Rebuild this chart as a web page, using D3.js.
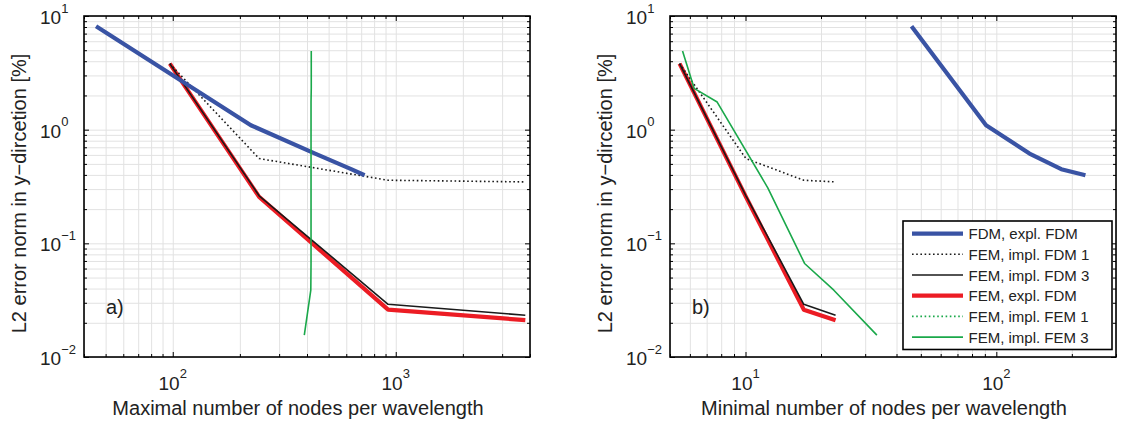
<!DOCTYPE html>
<html>
<head>
<meta charset="utf-8">
<script src="https://cdn.jsdelivr.net/npm/d3@7"></script>
<style>
  body { margin: 0; background: #fff; }
  text { font-family: "Liberation Sans", Arial, Helvetica, sans-serif; fill: #222; }
  .grid line { stroke: #e2e2e2; stroke-width: 1; }
  .grid path, .ticks path { stroke: none; }
  .ticks line { stroke: #000; stroke-width: 1; }
</style>
</head>
<body>
<script>
// y axis is shared by both panels
var yDomain = [0.01, 10];
var yTickLabels = [0.01, 0.1, 1, 10];

// panel a) : maximal number of nodes per wavelength
var xDomainA = [40, 4000];
var xTickLabelsA = [100, 1000];
var fdmExplMaxX = [45.3, 224, 435, 631, 725];
var fdmExplY = [8.11, 1.093, 0.616, 0.449, 0.397];
var femImplFdm1MaxX = [97, 244, 924, 3811];
var femImplFdm1Y = [3.81, 0.557, 0.359, 0.347];
var femImplFdm3MaxX = [97, 244, 924, 3811];
var femImplFdm3Y = [3.81, 0.262, 0.0291, 0.0233];
var femExplFdmMaxX = [97, 244, 924, 3811];
var femExplFdmY = [3.81, 0.256, 0.0261, 0.0211];
var femImplFem3MaxX = [418, 418, 417, 417, 417, 416, 389];
var femImplFem3Y = [4.92, 2.31, 1.75, 0.308, 0.0665, 0.0387, 0.01556];

// panel b) : minimal number of nodes per wavelength
var xDomainB = [5, 300];
var xTickLabelsB = [10, 100];
var fdmExplMinX = [45.9, 91, 135.6, 181.5, 226.6];
var femImplFdm1MinX = [5.46, 10.04, 17.07, 22.86];
var femImplFdm3MinX = [5.46, 10.04, 17.07, 22.86];
var femExplFdmMinX = [5.46, 10.04, 17.07, 22.86];
var femImplFem3MinX = [5.61, 6.24, 7.71, 12.27, 17.2, 22.5, 33.4];

// legend entries
var legendNames = ["FDM, expl. FDM", "FEM, impl. FDM 1", "FEM, impl. FDM 3",
                   "FEM, expl. FDM", "FEM, impl. FEM 1", "FEM, impl. FEM 3"];

// line styles, in legend order
var styles = [
  {color: "#3953a4", width: 4.2, dash: null},
  {color: "#1a1a1a", width: 1.6, dash: "1.6,2.6"},
  {color: "#1a1a1a", width: 1.6, dash: null},
  {color: "#ec1c24", width: 4.2, dash: null},
  {color: "#1aa84a", width: 1.6, dash: "1.6,2.6"},
  {color: "#1aa84a", width: 1.6, dash: null}
];

function zip(xs, ys) {
  return xs.map(function(v, i) { return {x: v, y: ys[i]}; });
}

var panels = [
  {
    left: 84, top: 16, width: 446, height: 341,
    xDomain: xDomainA, xTickLabels: xTickLabelsA,
    xLabel: "Maximal number of nodes per wavelength", tag: "a)",
    // drawing order: red under black, green on top
    series: [
      {style: 3, data: zip(femExplFdmMaxX, femExplFdmY)},
      {style: 2, data: zip(femImplFdm3MaxX, femImplFdm3Y)},
      {style: 1, data: zip(femImplFdm1MaxX, femImplFdm1Y)},
      {style: 0, data: zip(fdmExplMaxX, fdmExplY)},
      {style: 5, data: zip(femImplFem3MaxX, femImplFem3Y)}
    ],
    legend: false
  },
  {
    left: 670, top: 16, width: 446, height: 341,
    xDomain: xDomainB, xTickLabels: xTickLabelsB,
    xLabel: "Minimal number of nodes per wavelength", tag: "b)",
    series: [
      {style: 3, data: zip(femExplFdmMinX, femExplFdmY)},
      {style: 2, data: zip(femImplFdm3MinX, femImplFdm3Y)},
      {style: 1, data: zip(femImplFdm1MinX, femImplFdm1Y)},
      {style: 0, data: zip(fdmExplMinX, fdmExplY)},
      {style: 5, data: zip(femImplFem3MinX, femImplFem3Y)}
    ],
    legend: true
  }
];

var svg = d3.select("body").append("svg")
    .attr("width", 1121)
    .attr("height", 426);

function isMajor(v) {
  var l = Math.log10(v);
  return Math.abs(l - Math.round(l)) < 1e-9;
}

function expLabel(v) {
  var e = Math.round(Math.log10(v));
  return e < 0 ? "\u2212" + (-e) : "" + e;
}

panels.forEach(function(p) {
  var x = d3.scaleLog().domain(p.xDomain).range([0, p.width]);
  var y = d3.scaleLog().domain(yDomain).range([p.height, 0]);

  var g = svg.append("g")
      .attr("transform", "translate(" + p.left + "," + p.top + ")");

  var xAll = x.ticks(), yAll = y.ticks();
  var xMajor = xAll.filter(isMajor), xMinor = xAll.filter(function(v) { return !isMajor(v); });
  var yMajor = yAll.filter(isMajor), yMinor = yAll.filter(function(v) { return !isMajor(v); });

  // gridlines
  g.append("g")
      .attr("class", "grid")
      .attr("transform", "translate(0," + p.height + ")")
      .call(d3.axisBottom(x).tickValues(xAll).tickSize(-p.height).tickFormat(""));
  g.append("g")
      .attr("class", "grid")
      .call(d3.axisLeft(y).tickValues(yAll).tickSize(-p.width).tickFormat(""));

  // the curves
  var line = d3.line()
      .x(function(d) { return x(d.x); })
      .y(function(d) { return y(d.y); });

  p.series.forEach(function(s) {
    var st = styles[s.style];
    g.append("path")
        .datum(s.data)
        .attr("fill", "none")
        .attr("stroke", st.color)
        .attr("stroke-width", st.width)
        .attr("stroke-linejoin", "round")
        .attr("stroke-dasharray", st.dash)
        .attr("d", line);
  });

  // inward ticks on all four sides
  [[xMajor, 5], [xMinor, 3]].forEach(function(t) {
    g.append("g").attr("class", "ticks")
        .attr("transform", "translate(0," + p.height + ")")
        .call(d3.axisBottom(x).tickValues(t[0]).tickSize(-t[1]).tickFormat(""));
    g.append("g").attr("class", "ticks")
        .call(d3.axisTop(x).tickValues(t[0]).tickSize(-t[1]).tickFormat(""));
  });
  [[yMajor, 5], [yMinor, 3]].forEach(function(t) {
    g.append("g").attr("class", "ticks")
        .call(d3.axisLeft(y).tickValues(t[0]).tickSize(-t[1]).tickFormat(""));
    g.append("g").attr("class", "ticks")
        .attr("transform", "translate(" + p.width + ",0)")
        .call(d3.axisRight(y).tickValues(t[0]).tickSize(-t[1]).tickFormat(""));
  });

  // frame
  g.append("rect")
      .attr("width", p.width)
      .attr("height", p.height)
      .attr("fill", "none")
      .attr("stroke", "#000")
      .attr("stroke-width", 1.6);

  // y tick labels
  yTickLabels.forEach(function(v) {
    var t = g.append("text")
        .attr("x", -44)
        .attr("y", y(v) + 8)
        .style("font-size", "19px")
        .text("10");
    t.append("tspan")
        .attr("dy", -11.5)
        .style("font-size", "13px")
        .text(expLabel(v));
  });

  // x tick labels
  p.xTickLabels.forEach(function(v) {
    var t = g.append("text")
        .attr("x", x(v))
        .attr("y", p.height + 32.5)
        .style("font-size", "19px")
        .style("text-anchor", "middle")
        .text("10");
    t.append("tspan")
        .attr("dy", -12)
        .style("font-size", "13px")
        .text(expLabel(v));
  });

  // axis titles
  g.append("text")
      .attr("x", p.width / 2 - 9)
      .attr("y", p.height + 58)
      .style("font-size", "20px")
      .style("text-anchor", "middle")
      .text(p.xLabel);

  g.append("text")
      .attr("transform", "rotate(-90)")
      .attr("x", -(p.height / 2 + 7))
      .attr("y", -58)
      .style("font-size", "20px")
      .style("text-anchor", "middle")
      .text("L2 error norm in y\u2212dircetion [%]");

  // panel tag
  g.append("text")
      .attr("x", 22)
      .attr("y", 298)
      .style("font-size", "20px")
      .text(p.tag);

  if (p.legend) {
    var lg = g.append("g").attr("transform", "translate(" + (p.width - 213) + "," + 205 + ")");
    lg.append("rect")
        .attr("width", 209)
        .attr("height", 128.5)
        .attr("fill", "#fff")
        .attr("stroke", "#000")
        .attr("stroke-width", 1.6);
    legendNames.forEach(function(name, i) {
      var st = styles[i];
      var ly = 12.6 + i * 20.7;
      lg.append("line")
          .attr("x1", 9).attr("x2", 60)
          .attr("y1", ly).attr("y2", ly)
          .attr("stroke", st.color)
          .attr("stroke-width", st.width)
          .attr("stroke-dasharray", st.dash);
      lg.append("text")
          .attr("x", 65.5)
          .attr("y", ly + 5.5)
          .style("font-size", "15px")
          .text(name);
    });
  }
});
</script>
</body>
</html>
